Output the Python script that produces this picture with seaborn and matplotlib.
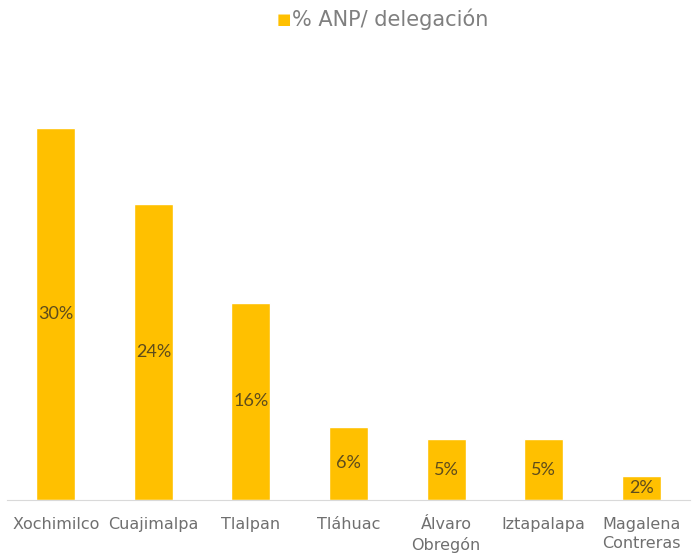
import matplotlib
matplotlib.use('Agg')
import matplotlib.pyplot as plt
import seaborn as sns
import pandas as pd

delegaciones = ['Xochimilco', 'Cuajimalpa', 'Tlalpan', 'Tláhuac', 'Álvaro\nObregón', 'Iztapalapa', 'Magalena\nContreras']
porcentaje = [30.0, 23.9, 15.9, 5.9, 4.9, 4.9, 1.9]
etiquetas = ['30%', '24%', '16%', '6%', '5%', '5%', '2%']

df = pd.DataFrame({'delegacion': delegaciones, 'pct': porcentaje})

sns.set_style('white')
plt.rcParams['font.family'] = ['DejaVu Sans']

fig = plt.figure(figsize=(6.94, 5.54), dpi=100)
ax = fig.add_axes([7/694, 1-500/554, 683/694, (500-66)/554])

sns.barplot(data=df, x='delegacion', y='pct', color='#FFC000', width=0.4, saturation=1, ax=ax)

for i, (v, t) in enumerate(zip(porcentaje, etiquetas)):
    ax.text(i, v/2, t, ha='center', va='center', fontsize=13, color='#5e4c1c',
            family=['Lato', 'DejaVu Sans'])

ax.set_xlim(-0.5, 6.5)
ax.set_ylim(0, 35)
ax.set_yticks([])
ax.set_xlabel('')
ax.set_ylabel('')
for s in ['top', 'right', 'left']:
    ax.spines[s].set_visible(False)
ax.spines['bottom'].set_color('#d9d9d9')
ax.tick_params(axis='x', length=0, labelsize=11.5, labelcolor='#6f6f6f', pad=12)
for lbl in ax.get_xticklabels():
    lbl.set_linespacing(1.4)

# leyenda arriba
fig.text(277/694, 1-19/554, '■', color='#FFC000', fontsize=11, ha='left', va='center')
fig.text(292/694, 1-19/554, '% ANP/ delegación', color='#7f7f7f', fontsize=15, ha='left', va='center')

fig.savefig('out.png', dpi=100)
